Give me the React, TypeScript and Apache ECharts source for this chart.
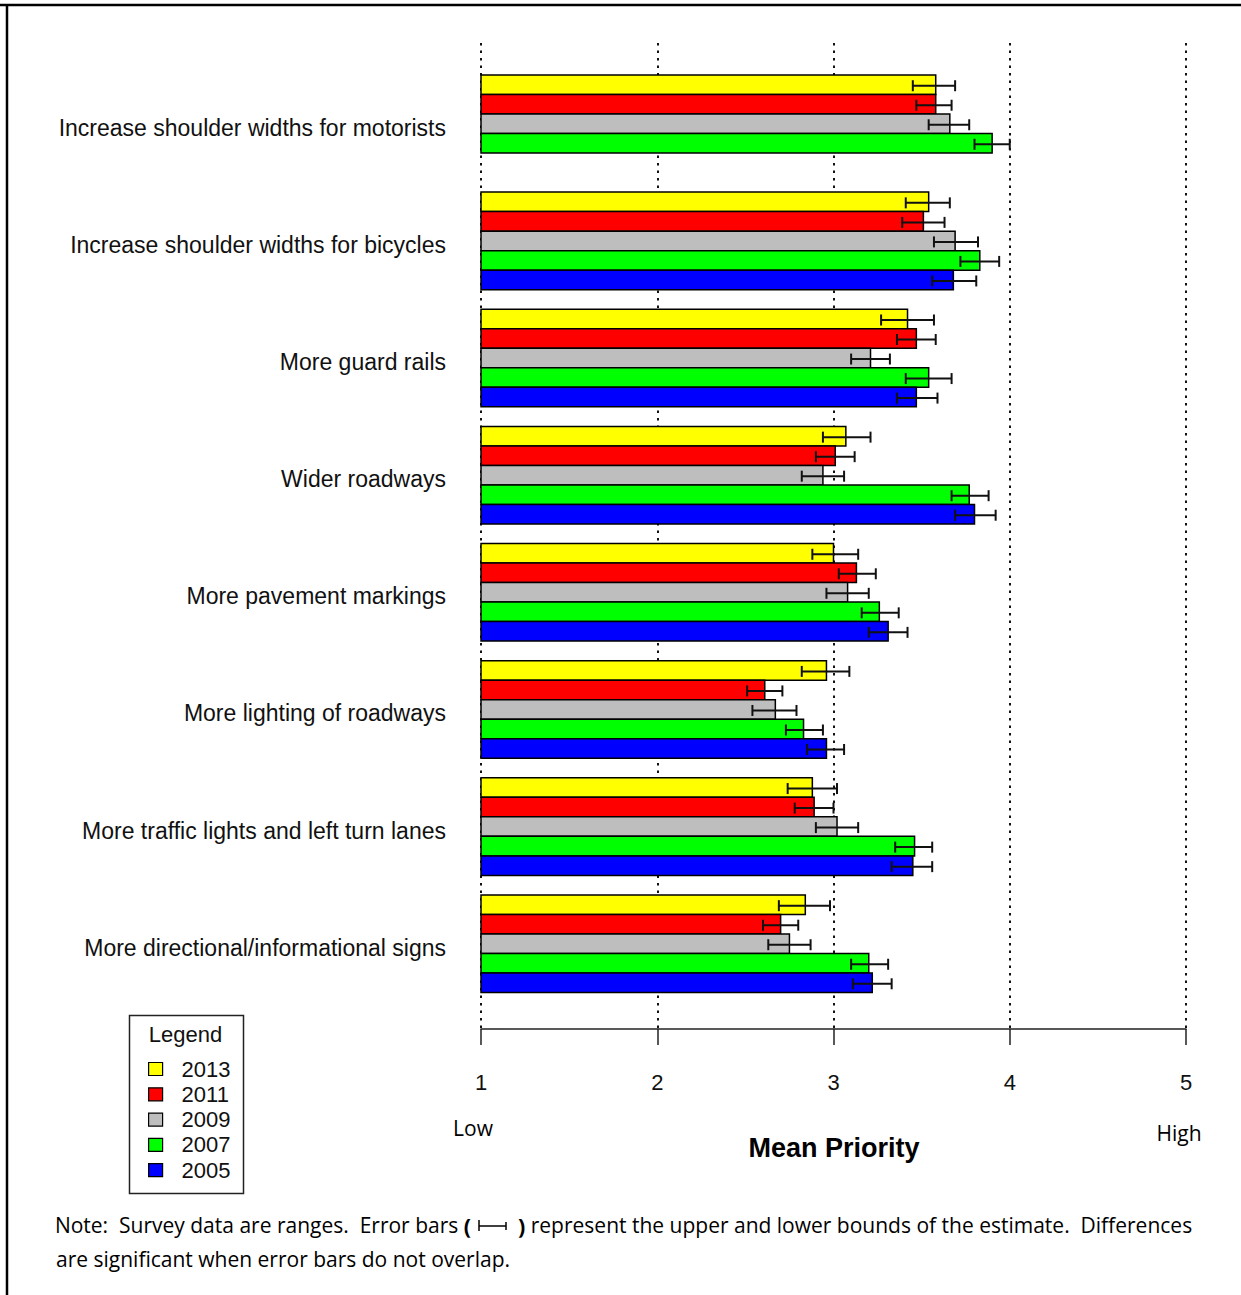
import React, { useEffect, useRef } from "react";
import * as echarts from "echarts";

const categories = [
  "Increase shoulder widths for motorists",
  "Increase shoulder widths for bicycles",
  "More guard rails",
  "Wider roadways",
  "More pavement markings",
  "More lighting of roadways",
  "More traffic lights and left turn lanes",
  "More directional/informational signs",
];
const years = ["2013", "2011", "2009", "2007", "2005"];
const yearColors = ["#FFFF00", "#FF0000", "#BEBEBE", "#00FF00", "#0000FF"];
const xTicks = [1, 2, 3, 4, 5];

const mean2013 = [3.58, 3.54, 3.42, 3.07, 3.0, 2.96, 2.88, 2.84];
const low2013 = [3.45, 3.41, 3.27, 2.94, 2.88, 2.82, 2.74, 2.69];
const high2013 = [3.69, 3.66, 3.57, 3.21, 3.14, 3.09, 3.02, 2.98];

const mean2011 = [3.58, 3.51, 3.47, 3.01, 3.13, 2.61, 2.89, 2.7];
const low2011 = [3.47, 3.39, 3.36, 2.9, 3.03, 2.51, 2.78, 2.6];
const high2011 = [3.67, 3.63, 3.58, 3.12, 3.24, 2.71, 3.0, 2.8];

const mean2009 = [3.66, 3.69, 3.21, 2.94, 3.08, 2.67, 3.02, 2.75];
const low2009 = [3.54, 3.57, 3.1, 2.82, 2.96, 2.54, 2.9, 2.63];
const high2009 = [3.77, 3.82, 3.32, 3.06, 3.2, 2.79, 3.14, 2.87];

const mean2007 = [3.9, 3.83, 3.54, 3.77, 3.26, 2.83, 3.46, 3.2];
const low2007 = [3.8, 3.72, 3.41, 3.67, 3.16, 2.73, 3.35, 3.1];
const high2007 = [4.0, 3.94, 3.67, 3.88, 3.37, 2.94, 3.56, 3.31];

const mean2005 = [null, 3.68, 3.47, 3.8, 3.31, 2.96, 3.45, 3.22];
const low2005 = [null, 3.56, 3.36, 3.69, 3.2, 2.85, 3.33, 3.11];
const high2005 = [null, 3.81, 3.59, 3.92, 3.42, 3.06, 3.56, 3.33];

const means = [mean2013, mean2011, mean2009, mean2007, mean2005];
const lows = [low2013, low2011, low2009, low2007, low2005];
const highs = [high2013, high2011, high2009, high2007, high2005];

const GROUP_FRAC = 0.8333;

export default function App() {
  const ref = useRef<HTMLDivElement>(null);

  useEffect(() => {
    document.body.style.margin = "0";
    if (!ref.current) return;
    const chart = echarts.init(ref.current, null, { renderer: "svg" });

    const series = years.map((yr, si) => {
      const data: any[] = [];
      means[si].forEach((m, ci) => {
        if (m == null) return;
        data.push([m, ci, lows[si][ci], highs[si][ci]]);
      });
      return {
        type: "custom",
        name: yr,
        xAxisIndex: 0,
        yAxisIndex: 0,
        itemStyle: { color: yearColors[si], borderColor: "#000", borderWidth: 1.5 },
        encode: { x: 0, y: 1 },
        data,
        renderItem: (params: any, api: any) => {
          const v = api.value(0);
          const cat = api.value(1);
          const lo = api.value(2);
          const hi = api.value(3);
          const p0 = api.coord([1, cat]);
          const pv = api.coord([v, cat]);
          const pl = api.coord([lo, cat]);
          const ph = api.coord([hi, cat]);
          const band = api.size([0, 1])[1];
          const barH = (band * GROUP_FRAC) / 5;
          const top = pv[1] - (band * GROUP_FRAC) / 2 + si * barH;
          const yc = top + barH / 2 + 1;
          const cap = 5.5;
          const ls = { stroke: "#111", lineWidth: 2 };
          return {
            type: "group",
            children: [
              {
                type: "rect",
                shape: { x: p0[0], y: top, width: pv[0] - p0[0], height: barH },
                style: { fill: yearColors[si], stroke: "#000", lineWidth: 1.5 },
              },
              { type: "line", shape: { x1: pl[0], y1: yc, x2: ph[0], y2: yc }, style: ls },
              { type: "line", shape: { x1: pl[0], y1: yc - cap, x2: pl[0], y2: yc + cap }, style: ls },
              { type: "line", shape: { x1: ph[0], y1: yc - cap, x2: ph[0], y2: yc + cap }, style: ls },
            ],
          };
        },
      };
    });

    const noteFont = "Open Sans";
    const noteSize = 21;
    const option: any = {
      animation: false,
      backgroundColor: "#ffffff",
      grid: [
        { left: 481, width: 705, top: 65.2, height: 937.1 },
        { left: 481, width: 705, top: 43, height: 986 },
        { left: 481, width: 705, top: 69.2, height: 937.1 },
      ],
      xAxis: [
        { gridIndex: 0, type: "value", min: 1, max: 5, interval: 1, show: false },
        {
          gridIndex: 1,
          type: "value",
          min: 1,
          max: 5,
          interval: 1,
          axisLine: { show: true, lineStyle: { color: "#222", width: 1.5 } },
          axisTick: { show: true, length: 16, lineStyle: { color: "#222", width: 1.5 } },
          axisLabel: {
            margin: 42,
            fontSize: 22,
            fontFamily: "Liberation Sans",
            color: "#111",
            formatter: (v: number) => (xTicks.indexOf(v) >= 0 ? String(v) : ""),
          },
          splitLine: { show: true, lineStyle: { color: "#111", width: 2, type: [2.5, 5] } },
        },
        { gridIndex: 2, type: "value", min: 1, max: 5, interval: 1, show: false },
      ],
      yAxis: [
        {
          gridIndex: 0,
          type: "category",
          inverse: true,
          data: categories,
          axisLine: { show: false },
          axisTick: { show: false },
          splitLine: { show: false },
          axisLabel: { show: false },
        },
        { gridIndex: 1, type: "value", show: false, splitLine: { show: false } },
        {
          gridIndex: 2,
          type: "category",
          inverse: true,
          data: categories,
          axisLine: { show: false },
          axisTick: { show: false },
          splitLine: { show: false },
          axisLabel: {
            margin: 35,
            fontSize: 23,
            fontFamily: "Liberation Sans",
            color: "#111",
          },
        },
      ],
      legend: {
        orient: "vertical",
        left: 143,
        top: 1053,
        itemWidth: 14,
        itemHeight: 13,
        itemGap: 3.3,
        icon: "rect",
        data: years,
        itemStyle: { borderColor: "#000", borderWidth: 1.2 },
        textStyle: {
          fontSize: 22,
          lineHeight: 22,
          fontFamily: "Liberation Sans",
          color: "#111",
          padding: [0, 0, 0, 14],
        },
        selectedMode: false,
      },
      series,
      graphic: [
        { type: "line", shape: { x1: 0, y1: 5, x2: 1241, y2: 5 }, style: { stroke: "#000", lineWidth: 2.5 } },
        { type: "line", shape: { x1: 7, y1: 4, x2: 7, y2: 1295 }, style: { stroke: "#000", lineWidth: 2.5 } },
        {
          type: "rect",
          shape: { x: 129.5, y: 1015.5, width: 114, height: 178 },
          style: { fill: "none", stroke: "#222", lineWidth: 1.5 },
        },
        {
          type: "text",
          x: 185.5,
          y: 1034,
          style: {
            text: "Legend",
            fontSize: 22,
            fontFamily: "Liberation Sans",
            fill: "#111",
            align: "center",
            verticalAlign: "middle",
          },
        },
        {
          type: "text",
          x: 473,
          y: 1128,
          style: { text: "Low", fontSize: noteSize, fontFamily: noteFont, fill: "#000", align: "center", verticalAlign: "middle" },
        },
        {
          type: "text",
          x: 1179,
          y: 1133,
          style: { text: "High", fontSize: noteSize, fontFamily: noteFont, fill: "#000", align: "center", verticalAlign: "middle" },
        },
        {
          type: "text",
          x: 834,
          y: 1148,
          style: {
            text: "Mean Priority",
            fontSize: 27,
            fontWeight: "bold",
            fontFamily: "Liberation Sans",
            fill: "#000",
            align: "center",
            verticalAlign: "middle",
          },
        },
        {
          type: "text",
          x: 471,
          y: 1225,
          style: {
            text: "Note:  Survey data are ranges.  Error bars {b|(}",
            fontSize: noteSize,
            fontFamily: noteFont,
            fill: "#000",
            align: "right",
            verticalAlign: "middle",
            rich: { b: { fontSize: 21.5, fontWeight: "bold", fontFamily: noteFont, fill: "#000" } },
          },
        },
        { type: "line", shape: { x1: 479, y1: 1226, x2: 506, y2: 1226 }, style: { stroke: "#000", lineWidth: 1.5 } },
        { type: "line", shape: { x1: 479, y1: 1220, x2: 479, y2: 1231 }, style: { stroke: "#000", lineWidth: 1.5 } },
        { type: "line", shape: { x1: 506, y1: 1222, x2: 506, y2: 1230 }, style: { stroke: "#000", lineWidth: 1.5 } },
        {
          type: "text",
          x: 518,
          y: 1225,
          style: {
            text: "{b|)} represent the upper and lower bounds of the estimate.  Differences",
            fontSize: noteSize,
            fontFamily: noteFont,
            fill: "#000",
            align: "left",
            verticalAlign: "middle",
            rich: { b: { fontSize: 21.5, fontWeight: "bold", fontFamily: noteFont, fill: "#000" } },
          },
        },
        {
          type: "text",
          x: 56,
          y: 1259,
          style: {
            text: "are significant when error bars do not overlap.",
            fontSize: noteSize,
            fontFamily: noteFont,
            fill: "#000",
            align: "left",
            verticalAlign: "middle",
          },
        },
      ],
    };

    chart.setOption(option);
    return () => chart.dispose();
  }, []);

  return <div ref={ref} style={{ width: 1241, height: 1295 }} />;
}
